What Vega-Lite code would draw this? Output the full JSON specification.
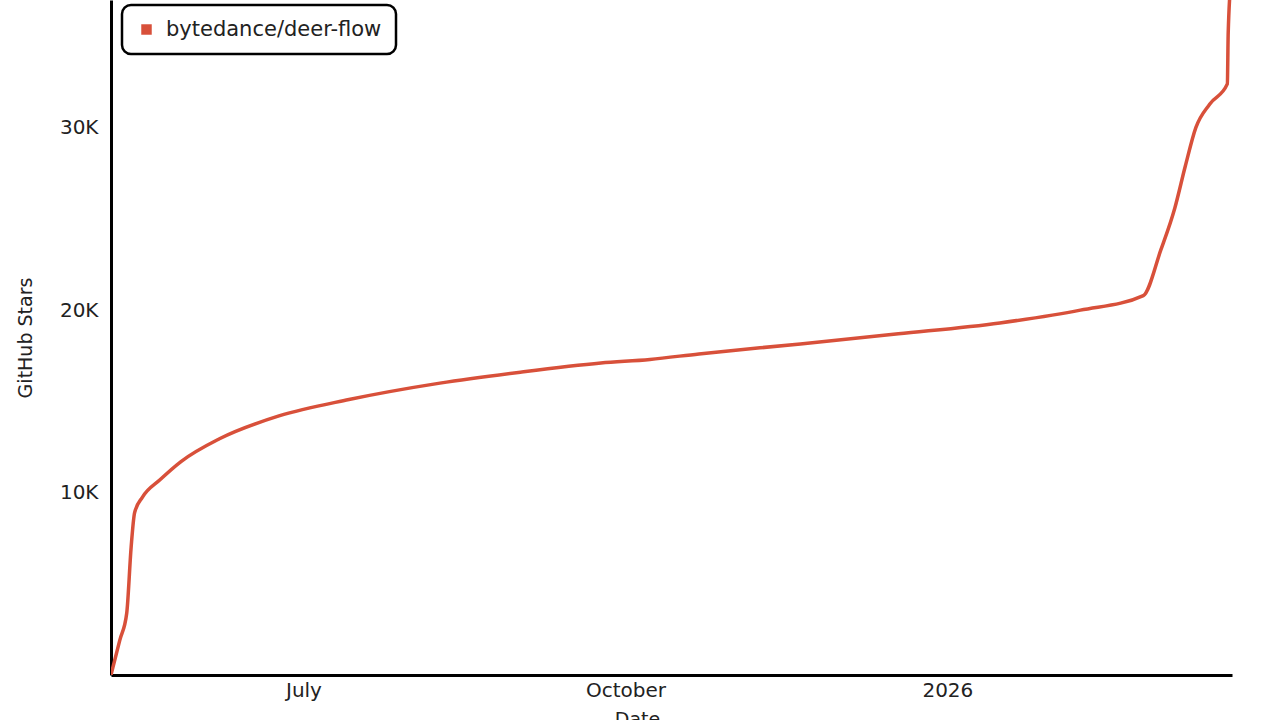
{
  "$schema": "https://vega.github.io/schema/vega-lite/v6.json",
  "width": 1121,
  "height": 675,
  "autosize": "none",
  "padding": {"left": 111, "top": 0, "right": 48, "bottom": 45},
  "background": "white",
  "config": {
    "view": {"stroke": null},
    "font": "DejaVu Sans"
  },
  "data": {
    "values": [
      {"date": "2025-05-07T00:00", "stars": 0, "repo": "bytedance/deer-flow"},
      {"date": "2025-05-09T12:00", "stars": 1900, "repo": "bytedance/deer-flow"},
      {"date": "2025-05-11T12:00", "stars": 3400, "repo": "bytedance/deer-flow"},
      {"date": "2025-05-12T18:00", "stars": 7000, "repo": "bytedance/deer-flow"},
      {"date": "2025-05-13T18:00", "stars": 8900, "repo": "bytedance/deer-flow"},
      {"date": "2025-05-16T00:00", "stars": 9750, "repo": "bytedance/deer-flow"},
      {"date": "2025-05-21T00:00", "stars": 10700, "repo": "bytedance/deer-flow"},
      {"date": "2025-05-27T00:00", "stars": 11700, "repo": "bytedance/deer-flow"},
      {"date": "2025-06-07T00:00", "stars": 12950, "repo": "bytedance/deer-flow"},
      {"date": "2025-06-24T00:00", "stars": 14200, "repo": "bytedance/deer-flow"},
      {"date": "2025-07-14T00:00", "stars": 15100, "repo": "bytedance/deer-flow"},
      {"date": "2025-08-09T00:00", "stars": 16000, "repo": "bytedance/deer-flow"},
      {"date": "2025-09-01T00:00", "stars": 16600, "repo": "bytedance/deer-flow"},
      {"date": "2025-09-24T00:00", "stars": 17100, "repo": "bytedance/deer-flow"},
      {"date": "2025-10-08T00:00", "stars": 17300, "repo": "bytedance/deer-flow"},
      {"date": "2025-10-22T00:00", "stars": 17600, "repo": "bytedance/deer-flow"},
      {"date": "2025-11-20T00:00", "stars": 18150, "repo": "bytedance/deer-flow"},
      {"date": "2025-12-18T00:00", "stars": 18700, "repo": "bytedance/deer-flow"},
      {"date": "2026-01-16T00:00", "stars": 19300, "repo": "bytedance/deer-flow"},
      {"date": "2026-02-08T00:00", "stars": 20000, "repo": "bytedance/deer-flow"},
      {"date": "2026-02-26T00:00", "stars": 20800, "repo": "bytedance/deer-flow"},
      {"date": "2026-03-03T00:00", "stars": 23300, "repo": "bytedance/deer-flow"},
      {"date": "2026-03-07T00:00", "stars": 25600, "repo": "bytedance/deer-flow"},
      {"date": "2026-03-10T00:00", "stars": 27900, "repo": "bytedance/deer-flow"},
      {"date": "2026-03-13T00:00", "stars": 30000, "repo": "bytedance/deer-flow"},
      {"date": "2026-03-17T00:00", "stars": 31300, "repo": "bytedance/deer-flow"},
      {"date": "2026-03-22T00:00", "stars": 32400, "repo": "bytedance/deer-flow"},
      {"date": "2026-03-22T06:00", "stars": 35200, "repo": "bytedance/deer-flow"},
      {"date": "2026-03-23T06:00", "stars": 38500, "repo": "bytedance/deer-flow"}
    ]
  },
  "mark": {"type": "line", "interpolate": "monotone", "strokeWidth": 3.5, "clip": true},
  "encoding": {
    "x": {
      "field": "date",
      "type": "temporal",
      "scale": {"domain": [{"year": 2025, "month": 5, "date": 7}, {"year": 2026, "month": 3, "date": 23, "hours": 8}]},
      "axis": {
        "title": "Date",
        "titleFontSize": 19,
        "titleFontWeight": "normal",
        "titleColor": "#222",
        "titleX": 526,
        "titlePadding": 10,
        "values": [{"year": 2025, "month": 7, "date": 1}, {"year": 2025, "month": 10, "date": 1}, {"year": 2026, "month": 1, "date": 1}],
        "labelExpr": "month(datum.value) == 0 ? timeFormat(datum.value, '%Y') : timeFormat(datum.value, '%B')",
        "labelFontSize": 20,
        "labelColor": "#222",
        "labelPadding": 5,
        "ticks": false,
        "grid": false,
        "domainColor": "black",
        "domainWidth": 3
      }
    },
    "y": {
      "field": "stars",
      "type": "quantitative",
      "scale": {"domain": [0, 37000], "nice": false},
      "axis": {
        "title": "GitHub Stars",
        "titleFontSize": 19,
        "titleFontWeight": "normal",
        "titleColor": "#222",
        "titlePadding": 24,
        "values": [10000, 20000, 30000],
        "labelExpr": "datum.value / 1000 + 'K'",
        "labelFontSize": 20,
        "labelColor": "#222",
        "labelPadding": 13,
        "ticks": false,
        "grid": false,
        "domainColor": "black",
        "domainWidth": 3
      }
    },
    "color": {
      "field": "repo",
      "type": "nominal",
      "scale": {"range": ["#d8503a"]},
      "legend": {
        "title": null,
        "orient": "none",
        "legendX": 11,
        "legendY": 5,
        "symbolType": "square",
        "symbolSize": 110,
        "symbolOffset": 0,
        "labelOffset": 9,
        "labelFontSize": 21,
        "labelLimit": 400,
        "labelColor": "#222",
        "padding": 14,
        "strokeColor": "black",
        "cornerRadius": 9,
        "fillColor": "white",
        "encode": {
          "legend": {"update": {"strokeWidth": {"value": 2.5}}},
          "symbols": {"update": {"fill": {"value": "#d8503a"}, "stroke": {"value": "#d8503a"}, "strokeWidth": {"value": 0}}}
        }
      }
    }
  }
}
